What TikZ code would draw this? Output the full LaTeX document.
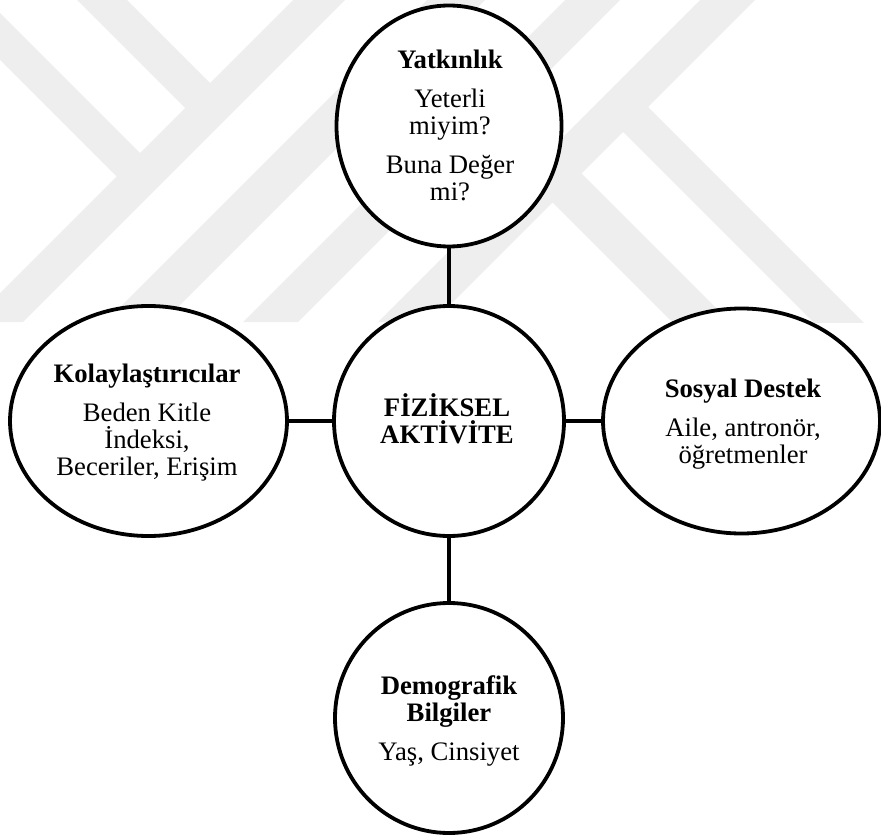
\documentclass[tikz,border=0pt]{standalone}
\usepackage{fontspec}
\setmainfont{Liberation Serif}
\usetikzlibrary{shapes.geometric}
\definecolor{wm}{RGB}{238,238,238}
\tikzset{
  bub/.style={ellipse, draw=black, fill=white, line width=3.8pt, inner sep=0pt},
  txt/.style={align=center, inner sep=0pt, font=\fontsize{26.7}{27}\selectfont},
  conn/.style={line width=3.8pt},
  band/.style={fill=wm, draw=none}
}
\begin{document}
\begin{tikzpicture}[x=1pt,y=-1pt]
\useasboundingbox (0,0) rectangle (881,837);
% faint watermark
\begin{scope}
\clip (0,0) rectangle (881,322);
\fill[band] (293,0) -- (345,0) -- (23,322) -- (-29,322) -- cycle;
\fill[band] (427,0) -- (485,0) -- (163,322) -- (105,322) -- cycle;
\fill[band] (565,0) -- (620,0) -- (298,322) -- (243,322) -- cycle;
\fill[band] (700,0) -- (755,0) -- (433,322) -- (378,322) -- cycle;
\fill[band] (0,13) -- (153.5,166.5) -- (130,190) -- (0,60) -- cycle;
\fill[band] (77,0) -- (127,0) -- (223.5,96.5) -- (198.5,121.5) -- cycle;
\fill[band] (635.5,94.5) -- (900,359) -- (850,359) -- (610.5,119.5) -- cycle;
\fill[band] (569,161) -- (748,340) -- (690,340) -- (540,190) -- cycle;
\end{scope}
% bubbles
\node[bub, minimum width=225pt, minimum height=241pt] (top) at (449,126) {};
\node[bub, minimum width=230pt, minimum height=230pt] (mid) at (449,421) {};
\node[bub, minimum width=277pt, minimum height=230pt] (lft) at (148.5,421) {};
\node[bub, minimum width=277pt, minimum height=225pt] (rgt) at (741.5,421) {};
\node[bub, minimum width=228pt, minimum height=230pt] (bot) at (449,718) {};
% connectors
\draw[conn] (top.south) -- (mid.north);
\draw[conn] (mid.south) -- (bot.north);
\draw[conn] (lft.east) -- (mid.west);
\draw[conn] (mid.east) -- (rgt.west);
% texts
\node[txt] (ttop) at (450,125) {\textbf{Yatkınlık}\\[12pt]Yeterli\\miyim?\\[12pt]Buna Değer\\mi?};
\node[txt] (tmid) at (447,419) {\textbf{FİZİKSEL}\\\textbf{AKTİVİTE}};
\node[txt] (tlft) at (147,423) {\textbf{Kolaylaştırıcılar}\\[12pt]Beden Kitle\\İndeksi,\\Beceriler, Erişim};
\node[txt] (trgt) at (743,424) {\textbf{Sosyal Destek}\\[12pt]Aile, antronör,\\öğretmenler};
\node[txt] (tbot) at (449,721) {\textbf{Demografik}\\\textbf{Bilgiler}\\[12pt]Yaş, Cinsiyet};
\end{tikzpicture}
\end{document}
